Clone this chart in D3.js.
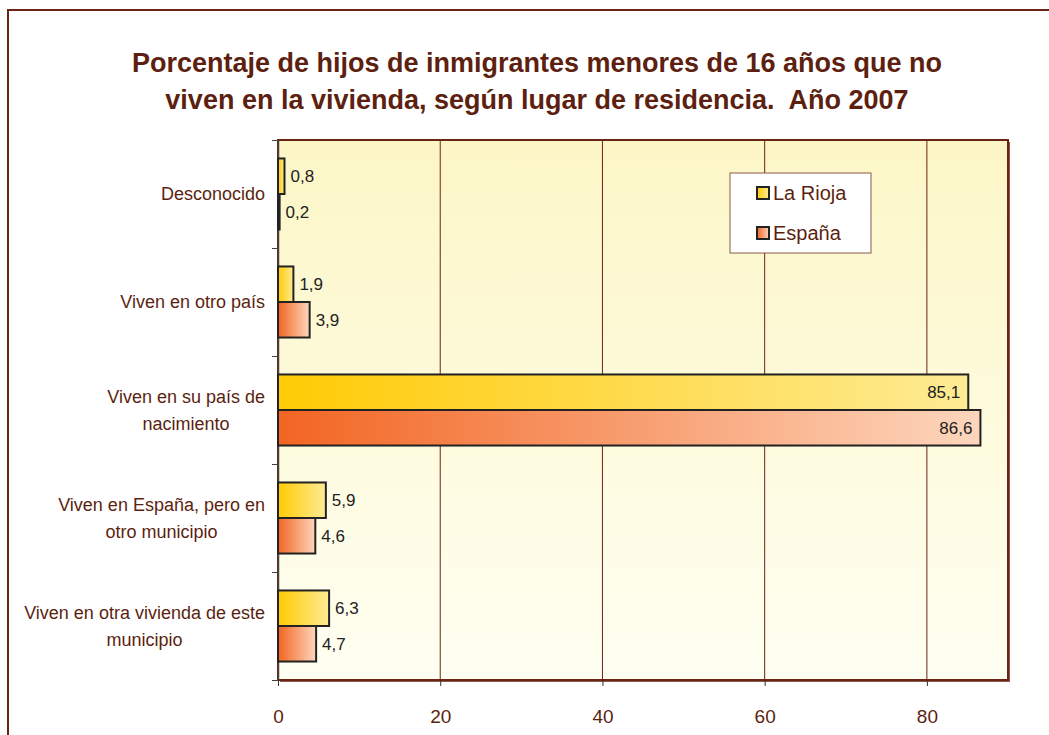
<!DOCTYPE html>
<meta charset="utf-8">
<script src="https://d3js.org/d3.v7.min.js"></script>
<style>
  body { margin: 0; background: #fff; }
  text { font-family: "Liberation Sans", Arial, sans-serif; }
</style>
<div id="chart"></div>
<script>
// datos
var categorias = [
  ["Desconocido"],
  ["Viven en otro país"],
  ["Viven en su país de", "nacimiento"],
  ["Viven en España, pero en", "otro municipio"],
  ["Viven en otra vivienda de este", "municipio"]
]
var series = ["La Rioja", "España"]
var laRioja = [0.8, 1.9, 85.1, 5.9, 6.3]
var espana  = [0.2, 3.9, 86.6, 4.6, 4.7]
var ticksX  = [0, 20, 40, 60, 80]

var width = 1049, height = 735
var brown = "#6b2414"
var m = {left: 278, top: 140, right: 1008, bottom: 680}

var svg = d3.select("#chart").append("svg")
  .attr("width", width).attr("height", height)

var defs = svg.append("defs")
var bg = defs.append("linearGradient").attr("id", "bg")
  .attr("x1", 0).attr("y1", 0).attr("x2", 0).attr("y2", 1)
bg.append("stop").attr("offset", "0%").attr("stop-color", "#fcf6c6")
bg.append("stop").attr("offset", "100%").attr("stop-color", "#fffff2")

var g1 = defs.append("linearGradient").attr("id", "gRioja")
g1.append("stop").attr("offset", "0%").attr("stop-color", "#ffcb05")
g1.append("stop").attr("offset", "100%").attr("stop-color", "#feeb94")
var g2 = defs.append("linearGradient").attr("id", "gEsp")
g2.append("stop").attr("offset", "0%").attr("stop-color", "#f26522")
g2.append("stop").attr("offset", "100%").attr("stop-color", "#fdd6bd")
var fills = ["url(#gRioja)", "url(#gEsp)"]

// marco exterior
svg.append("rect")
  .attr("x", 8).attr("y", 10).attr("width", 1100).attr("height", 800)
  .attr("fill", "none").attr("stroke", brown).attr("stroke-width", 2)

// titulo
var title = ["Porcentaje de hijos de inmigrantes menores de 16 años que no",
             "viven en la vivienda, según lugar de residencia.  Año 2007"]
svg.append("g").selectAll("text").data(title).enter().append("text")
  .attr("x", 537).attr("y", function(d, i){ return 72 + i * 37 })
  .attr("text-anchor", "middle")
  .style("font-size", "27px").style("font-weight", "bold")
  .style("white-space", "pre")
  .attr("fill", "#5c1f10")
  .text(function(d){ return d })

var x = d3.scaleLinear().domain([0, 90]).range([m.left, m.right])
var y = d3.scaleBand().domain(d3.range(categorias.length))
  .range([m.top, m.bottom]).paddingInner(0).paddingOuter(0)
var ySub = d3.scaleBand().domain([0, 1])
  .range([0, y.bandwidth()]).paddingOuter(0.52).paddingInner(0)

// area de trazado
svg.append("rect")
  .attr("x", m.left + 2).attr("y", m.top + 2)
  .attr("width", m.right - m.left).attr("height", m.bottom - m.top)
  .attr("fill", "#8a5a4a")
svg.append("rect")
  .attr("x", m.left).attr("y", m.top)
  .attr("width", m.right - m.left).attr("height", m.bottom - m.top)
  .attr("fill", "url(#bg)").attr("stroke", brown).attr("stroke-width", 2)

// rejilla
svg.append("g").selectAll("line").data(ticksX.slice(1)).enter().append("line")
  .attr("x1", function(d){ return x(d) }).attr("x2", function(d){ return x(d) })
  .attr("y1", m.top).attr("y2", m.bottom)
  .attr("stroke", brown).attr("stroke-width", 1)

// eje x
var xAxis = svg.append("g").attr("transform", "translate(0," + m.bottom + ")")
  .call(d3.axisBottom(x).tickValues(ticksX).tickSize(6).tickPadding(24).tickSizeOuter(0))
xAxis.select(".domain").remove()
xAxis.selectAll("line").attr("stroke", "#333")
xAxis.selectAll("text").style("font-size", "19px").attr("fill", "#5c1f10")

// eje y
var yLin = d3.scaleLinear().domain([0, categorias.length]).range([m.top, m.bottom])
var yAxis = svg.append("g").attr("transform", "translate(" + m.left + ",0)")
  .call(d3.axisLeft(yLin).ticks(5).tickSize(6).tickFormat("").tickSizeOuter(0))
yAxis.select(".domain").attr("stroke", "#444").attr("stroke-width", 1.5)
yAxis.selectAll("line").attr("stroke", "#444")

// etiquetas de categoria
var labels = svg.append("g").selectAll("g").data(categorias).enter().append("g")
labels.each(function(lines, i) {
  var gg = d3.select(this)
  var cy = y(i) + y.bandwidth() / 2
  var t = gg.selectAll("text").data(lines).enter().append("text")
    .attr("y", function(d, j){ return cy + (j - (lines.length - 1) / 2) * 27 })
    .attr("dy", "0.35em")
    .attr("text-anchor", "middle")
    .style("font-size", "18px").attr("fill", "#5c1f10")
    .text(function(d){ return d })
  var w = 0
  t.each(function(){ w = Math.max(w, this.getComputedTextLength()) })
  t.attr("x", 265 - w / 2)
})

// barras
var data = [laRioja, espana]
data.forEach(function(vals, s) {
  var gs = svg.append("g")
  gs.selectAll("rect").data(vals).enter().append("rect")
    .attr("x", x(0))
    .attr("y", function(d, i){ return y(i) + ySub(s) })
    .attr("width", function(d){ return x(d) - x(0) })
    .attr("height", ySub.bandwidth())
    .attr("fill", fills[s])
    .attr("stroke", "#222").attr("stroke-width", 2)
  gs.selectAll("text").data(vals).enter().append("text")
    .attr("x", function(d){ return d > 50 ? x(d) - 8 : x(d) + 6 })
    .attr("y", function(d, i){ return y(i) + ySub(s) + ySub.bandwidth() / 2 })
    .attr("dy", "0.35em")
    .attr("text-anchor", function(d){ return d > 50 ? "end" : "start" })
    .style("font-size", "17px").attr("fill", "#222")
    .text(function(d){ return d3.format(".1f")(d).replace(".", ",") })
})

// leyenda
var leg = svg.append("g")
leg.append("rect").attr("x", 730).attr("y", 173).attr("width", 141).attr("height", 80)
  .attr("fill", "#fff").attr("stroke", "#8a5a4a").attr("stroke-width", 1)
var li = leg.selectAll("g.item").data(series).enter().append("g")
  .attr("transform", function(d, i){ return "translate(757," + (187 + i * 40) + ")" })
li.append("rect").attr("width", 12).attr("height", 12)
  .attr("fill", function(d, i){ return fills[i] })
  .attr("stroke", "#222").attr("stroke-width", 2)
li.append("text").attr("x", 16).attr("y", 6).attr("dy", "0.35em")
  .style("font-size", "20px").attr("fill", "#5c1f10")
  .text(function(d){ return d })
</script>
